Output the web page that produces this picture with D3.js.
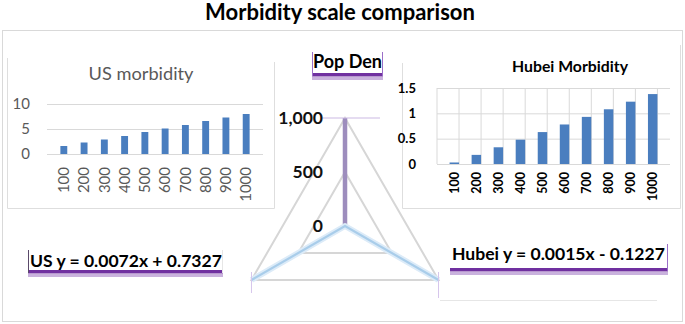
<!DOCTYPE html>
<html>
<head>
<meta charset="utf-8">
<script src="https://cdn.jsdelivr.net/npm/d3@7"></script>
<style>
  body { margin: 0; background: #fff; }
  text { font-family: Lato, "Open Sans", sans-serif; }
</style>
</head>
<body>
<div id="chart"></div>
<script>
// Data
const doses = ["100", "200", "300", "400", "500", "600", "700", "800", "900", "1000"];
const usValues = [1.6, 2.3, 2.9, 3.6, 4.4, 5.1, 5.8, 6.6, 7.3, 8.0];
const hubeiValues = [0.03, 0.18, 0.33, 0.48, 0.63, 0.78, 0.93, 1.08, 1.23, 1.38];
const usTicks = [0, 5, 10];
const hubeiTicks = [0, 0.5, 1, 1.5];
const radarAxes = ["US y = 0.0072x + 0.7327", "Pop Den", "Hubei y = 0.0015x - 0.1227"];
const radarPurple = [0, 1000, 0];
const radarBlue = [1000, 0, 1000];
const radarTicks = [0, 500, 1000];

const W = 685, H = 324;
const grid = "#d9d9d9", barBlue = "#4a7ebf", purple = "#7030a0";

const svg = d3.select("#chart")
    .append("svg")
    .attr("width", W)
    .attr("height", H);

// scale font so that a label fills the width seen in the picture
function fit(sel, w) {
    const len = sel.node().getComputedTextLength();
    const fs = parseFloat(sel.style("font-size"));
    sel.style("font-size", (fs * w / len).toFixed(2) + "px");
}

function frameLine(x1, y1, x2, y2, c) {
    svg.append("line")
        .attr("x1", x1).attr("y1", y1).attr("x2", x2).attr("y2", y2)
        .style("stroke", c || "#dedede")
        .style("stroke-width", 1);
}

// Outer frame and title
svg.append("rect")
    .attr("x", 2.5).attr("y", 30.5)
    .attr("width", 680).attr("height", 291)
    .style("fill", "none")
    .style("stroke", grid);

const title = svg.append("text")
    .attr("x", 340).attr("y", 20)
    .attr("text-anchor", "middle")
    .style("font-size", "19px")
    .style("font-weight", "bold")
    .style("fill", "#000")
    .text("Morbidity scale comparison");
fit(title, 270);

// ---------- US morbidity panel ----------
frameLine(7.5, 58, 7.5, 208.5);
frameLine(7.5, 208.5, 274.5, 208.5);
frameLine(274.5, 62, 274.5, 208.5);

const usTitle = svg.append("text")
    .attr("x", 141).attr("y", 80)
    .attr("text-anchor", "middle")
    .style("font-size", "19px")
    .style("fill", "#595959")
    .text("US morbidity");
fit(usTitle, 105);

const xUs = d3.scaleBand()
    .domain(doses)
    .range([47, 263])
    .padding(0.66);
const yUs = d3.scaleLinear()
    .domain([0, 10])
    .range([154, 104]);

const usAxisY = svg.append("g")
    .attr("transform", `translate(47,0)`)
    .call(d3.axisLeft(yUs).tickValues(usTicks).tickSize(-(263 - 47)).tickPadding(17));
usAxisY.select(".domain").remove();
usAxisY.selectAll("line").style("stroke", grid);
usAxisY.selectAll("text")
    .style("font-size", "15px")
    .style("font-family", "Lato, sans-serif")
    .style("fill", "#595959");

svg.selectAll("rect.us-bar")
    .data(usValues)
    .enter()
    .append("rect")
    .attr("class", "us-bar")
    .attr("x", (d, i) => xUs(doses[i]))
    .attr("y", d => yUs(d))
    .attr("width", xUs.bandwidth())
    .attr("height", d => yUs(0) - yUs(d))
    .style("fill", barBlue);

const usAxisX = svg.append("g")
    .attr("transform", `translate(0,${yUs(0)})`)
    .call(d3.axisBottom(xUs).tickSize(0));
usAxisX.select(".domain").remove();
usAxisX.selectAll("text")
    .attr("transform", "rotate(-90)")
    .attr("text-anchor", "end")
    .attr("x", -13)
    .attr("y", 0)
    .attr("dy", "0.35em")
    .style("font-size", "15px")
    .style("font-family", "Lato, sans-serif")
    .style("fill", "#595959");

// ---------- Hubei morbidity panel ----------
frameLine(402.5, 63, 402.5, 208.5);
frameLine(402.5, 208.5, 680.5, 208.5);
frameLine(680.5, 45, 680.5, 208.5);
frameLine(440, 300.5, 657, 300.5, "#e6e6e6");

const hbTitle = svg.append("text")
    .attr("x", 570).attr("y", 72)
    .attr("text-anchor", "middle")
    .style("font-size", "15px")
    .style("font-weight", "bold")
    .style("fill", "#000")
    .text("Hubei Morbidity");
fit(hbTitle, 116);

const xHb = d3.scaleBand()
    .domain(doses)
    .range([437, 670])
    .padding(0.57);
const yHb = d3.scaleLinear()
    .domain([0, 1.5])
    .range([164, 88]);

// vertical grid at category boundaries
svg.selectAll("line.hb-vgrid")
    .data(doses.concat(["end"]))
    .enter()
    .append("line")
    .attr("class", "hb-vgrid")
    .attr("x1", (d, i) => 437 + i * xHb.step())
    .attr("x2", (d, i) => 437 + i * xHb.step())
    .attr("y1", yHb(1.5))
    .attr("y2", yHb(0))
    .style("stroke", grid);

const hbAxisY = svg.append("g")
    .attr("transform", `translate(437,0)`)
    .call(d3.axisLeft(yHb).tickValues(hubeiTicks).tickSize(-(670 - 437)).tickPadding(21)
        .tickFormat(d3.format("")));
hbAxisY.select(".domain").remove();
hbAxisY.selectAll("line").style("stroke", grid);
hbAxisY.selectAll("text")
    .style("font-size", "13px")
    .style("font-weight", "bold")
    .style("font-family", "Lato, sans-serif")
    .style("fill", "#000");

svg.selectAll("rect.hb-bar")
    .data(hubeiValues)
    .enter()
    .append("rect")
    .attr("class", "hb-bar")
    .attr("x", (d, i) => xHb(doses[i]))
    .attr("y", d => yHb(d))
    .attr("width", xHb.bandwidth())
    .attr("height", d => yHb(0) - yHb(d))
    .style("fill", barBlue);

const hbAxisX = svg.append("g")
    .attr("transform", `translate(0,${yHb(0)})`)
    .call(d3.axisBottom(xHb).tickSize(0));
hbAxisX.select(".domain").remove();
hbAxisX.selectAll("text")
    .attr("transform", "rotate(-90)")
    .attr("text-anchor", "end")
    .attr("x", -8)
    .attr("y", 0)
    .attr("dy", "0.35em")
    .style("font-size", "12.5px")
    .style("font-weight", "bold")
    .style("font-family", "Lato, sans-serif")
    .style("fill", "#000");

// ---------- Radar (Pop Den) ----------
const cx = 345, cy = 226;
const r = d3.scaleLinear().domain([0, 1000]).range([0, 108]);
const angle = d3.scalePoint()
    .domain(radarAxes)
    .range([-2 * Math.PI / 3, 2 * Math.PI / 3]);

const radar = svg.append("g")
    .attr("transform", `translate(${cx},${cy})`);

const gridLine = d3.lineRadial()
    .angle(d => angle(d.axis))
    .radius(d => r(d.v))
    .curve(d3.curveLinearClosed);

radar.selectAll("path.level")
    .data(radarTicks.filter(t => t > 0))
    .enter()
    .append("path")
    .attr("class", "level")
    .attr("d", t => gridLine(radarAxes.map(a => ({axis: a, v: t}))))
    .style("fill", "none")
    .style("stroke", "#d6d6d6")
    .style("stroke-width", 2);

radar.selectAll("line.spoke")
    .data(radarAxes)
    .enter()
    .append("line")
    .attr("class", "spoke")
    .attr("x1", 0).attr("y1", 0)
    .attr("x2", a => r(1000) * Math.sin(angle(a)))
    .attr("y2", a => -r(1000) * Math.cos(angle(a)))
    .style("stroke", "#d6d6d6")
    .style("stroke-width", 2);

const seriesLine = d3.lineRadial()
    .angle((d, i) => angle(radarAxes[i]))
    .radius(d => r(d));

radar.append("path")
    .attr("d", seriesLine(radarPurple))
    .style("fill", "none")
    .style("stroke", "#9d8dbd")
    .style("stroke-width", 4.5);

radar.append("path")
    .attr("d", seriesLine(radarBlue))
    .style("fill", "none")
    .style("stroke", "#dcebf8")
    .style("stroke-width", 6)
    .style("stroke-linejoin", "round");
radar.append("path")
    .attr("d", seriesLine(radarBlue))
    .style("fill", "none")
    .style("stroke", "#a9cdea")
    .style("stroke-width", 2.2);

// selection marks around the radar
radar.append("line")
    .attr("x1", -23).attr("x2", 35)
    .attr("y1", -r(1000)).attr("y2", -r(1000))
    .style("stroke", "#cbb9e3").style("stroke-width", 1);
[[radarAxes[0], 13], [radarAxes[2], 18]].forEach(([a, len]) => {
    const px = r(1000) * Math.sin(angle(a)), py = -r(1000) * Math.cos(angle(a));
    radar.append("line")
        .attr("x1", px).attr("x2", px)
        .attr("y1", py - 8).attr("y2", py + len)
        .style("stroke", "#d6c6ec").style("stroke-width", 1);
});

radar.selectAll("text.rtick")
    .data(radarTicks)
    .enter()
    .append("text")
    .attr("class", "rtick")
    .attr("x", -22)
    .attr("y", d => -r(d))
    .attr("dy", "0.35em")
    .attr("text-anchor", "end")
    .style("font-size", "17.5px")
    .style("font-weight", "bold")
    .style("fill", "#111")
    .text(d3.format(","));

// axis labels in their boxes
function labelBox(text, x, y, w, box) {
    const g = svg.append("g");
    g.append("rect")
        .attr("x", box.x).attr("y", box.y + box.h + 1)
        .attr("width", box.w).attr("height", 3)
        .style("fill", "#c9b2dd");
    g.append("rect")
        .attr("x", box.x).attr("y", box.y)
        .attr("width", box.w).attr("height", box.h)
        .style("fill", "#fff");
    g.append("rect")
        .attr("x", box.x).attr("y", box.y + box.h - 3)
        .attr("width", box.w).attr("height", 3.5)
        .style("fill", purple);
    if (box.left) {
        g.append("line")
            .attr("x1", box.x + 0.5).attr("x2", box.x + 0.5)
            .attr("y1", box.y).attr("y2", box.y + box.h)
            .style("stroke", box.left);
    }
    if (box.right) {
        g.append("line")
            .attr("x1", box.x + box.w - 0.5).attr("x2", box.x + box.w - 0.5)
            .attr("y1", box.y).attr("y2", box.y + box.h)
            .style("stroke", box.right);
    }
    const t = g.append("text")
        .attr("x", x).attr("y", y)
        .style("font-size", "19px")
        .style("font-weight", "bold")
        .style("fill", "#000")
        .text(text);
    fit(t, w);
}

labelBox(radarAxes[1], 313, 68, 69, {x: 312, y: 52, w: 71, h: 24, left: "#9b6fc8", right: "#9b6fc8"});
labelBox(radarAxes[0], 30, 267, 192, {x: 28, y: 250, w: 195, h: 23, left: "#5a4a6a", right: "#e6e6e6"});
labelBox(radarAxes[2], 452, 260, 213, {x: 450, y: 244, w: 218, h: 27, right: "#9b6fc8"});
</script>
</body>
</html>
